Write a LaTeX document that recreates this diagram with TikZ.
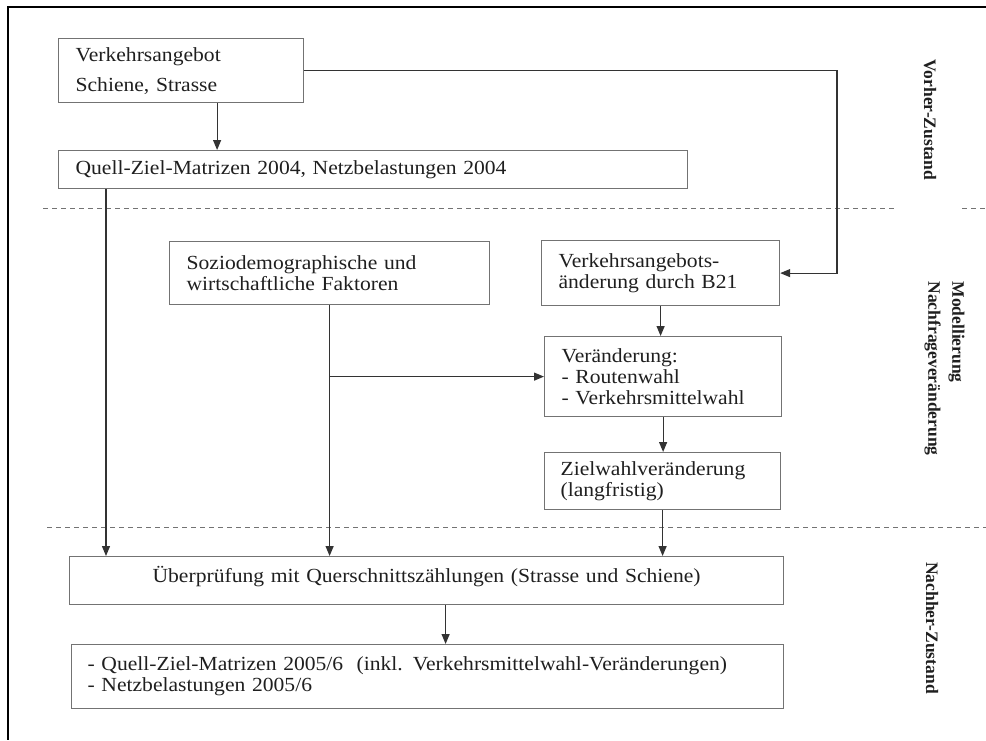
\documentclass[tikz,border=0pt]{standalone}
\usepackage{fontspec}
\setmainfont{Liberation Serif}[FakeStretch=1.08]
\newfontfamily\sidefont{Liberation Serif}
\usetikzlibrary{arrows.meta}
\definecolor{boxgray}{gray}{0.45}
\definecolor{linegray}{gray}{0.2}
\definecolor{textgray}{gray}{0.12}

\begin{document}
\begin{tikzpicture}[x=1pt,y=-1pt,
    box/.style={draw=boxgray,line width=1.2pt,anchor=north west,align=left,
        inner xsep=17pt,inner ysep=0pt,text=textgray,
        font=\fontsize{20}{21}\selectfont},
    side/.style={rotate=-90,text=textgray,
        font=\sidefont\bfseries\fontsize{17.5}{24}\selectfont},
    zone/.style={draw=boxgray,line width=1pt,dash pattern=on 5pt off 4pt},
    >={Triangle[length=10pt,width=8pt]},
    flow/.style={->,draw=linegray,line width=1.2pt}]

    \useasboundingbox (0,0) rectangle (986,740);
    \draw[line width=2.8pt] (986,7) -- (8,7) -- (8,740);

    \node[box,text width=211pt,minimum height=64pt] (angebot) at (58,38)
    {Verkehrsangebot\\[9pt]Schiene, Strasse};
    \node[box,text width=595pt,minimum height=38pt] (qzm) at (58,150)
    {Quell-Ziel-Matrizen 2004, Netzbelastungen 2004};
    \node[box,text width=286pt,minimum height=63pt] (sozio) at (169,241)
    {Soziodemographische und\\wirtschaftliche Faktoren};
    \node[box,text width=204pt,minimum height=65pt] (aenderung) at (541,240)
    {Verkehrsangebots-\\änderung durch B21};
    \node[box,text width=203pt,minimum height=80pt] (wahl) at (544,336)
    {Veränderung:\\- Routenwahl\\- Verkehrsmittelwahl};
    \node[box,text width=204pt,minimum height=57pt,inner xsep=16pt] (ziel) at (544,452)
    {Zielwahlveränderung\\(langfristig)};
    \node[box,text width=680pt,minimum height=48pt,text depth=13pt,align=center] (ueber) at (69,556)
    {Überprüfung mit Querschnittszählungen (Strasse und Schiene)};
    \node[box,text width=680pt,minimum height=64pt,inner xsep=16pt] (ergebnis) at (71,644)
    {- Quell-Ziel-Matrizen 2005/6~~(inkl. Verkehrsmittelwahl-Veränderungen)\\- Netzbelastungen 2005/6};

    \node[side] (vorher) at (930,120) {Vorher-Zustand};
    \node[side,align=left,anchor=north west] (modell) at (968,278)
    {Modellierung\\Nachfrageveränderung};
    \node[side] (nachher) at (932,628) {Nachher-Zustand};

    \draw[zone] (43,208) -- (897,208);
    \draw[zone] (962,208) -- (986,208);
    \draw[zone] (47,527) -- (986,527);

    \coordinate (turn) at (837,0);
    \coordinate (drop) at ([xshift=36pt]angebot.south);
    \coordinate (links) at ([xshift=48pt]qzm.south west);
    \coordinate (branch) at (sozio.south |- wahl.west);
    \coordinate (down) at ([xshift=19pt]ueber.south);

    \draw[flow] (angebot.east) -- (angebot.east -| turn) |- (aenderung.east);
    \draw[flow] (drop) -- (drop |- qzm.north);
    \draw[flow] (links) -- (links |- ueber.north);
    \draw[flow] (sozio.south) -- (sozio.south |- ueber.north);
    \draw[flow] (branch) -- (wahl.west);
    \draw[flow] (aenderung.south) -- (aenderung.south |- wahl.north);
    \draw[flow] (wahl.south) -- (wahl.south |- ziel.north);
    \draw[flow] (ziel.south) -- (ziel.south |- ueber.north);
    \draw[flow] (down) -- (down |- ergebnis.north);
  \end{tikzpicture}
\end{document}
